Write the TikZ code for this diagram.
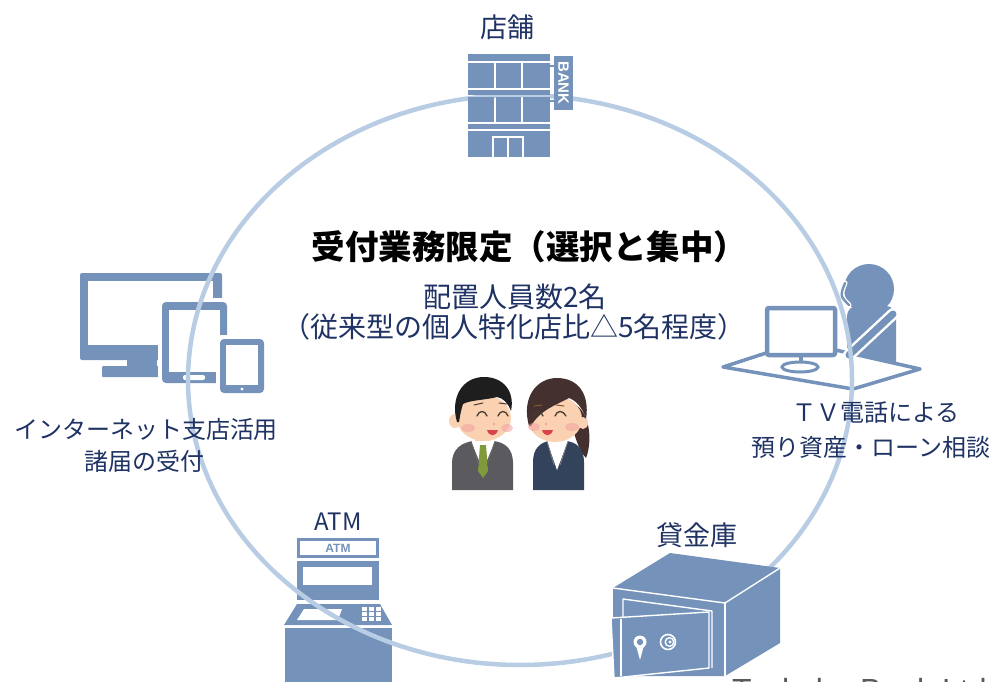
\documentclass[tikz,border=0pt]{standalone}
\usepackage{fontspec}
\newfontfamily\jp{Noto Sans CJK JP}
\newfontfamily\jpheavy{Noto Sans CJK JP Black}
\newfontfamily\latinfont{Liberation Sans}
\definecolor{iconblue}{HTML}{7492BA}
\definecolor{ringblue}{HTML}{B8CCE4}
\definecolor{navy}{HTML}{1F3264}
\definecolor{footgray}{HTML}{595959}
\definecolor{skin}{HTML}{FAD2B2}
\definecolor{blush}{HTML}{F2A4A2}
\definecolor{mouthred}{HTML}{D9434E}
\definecolor{eyedark}{HTML}{4A3A32}
\definecolor{hairblack}{HTML}{1E1E1E}
\definecolor{hairbrown}{HTML}{43302F}
\definecolor{suitgray}{HTML}{5B5B5F}
\definecolor{suitnavy}{HTML}{34435C}
\definecolor{tiegreen}{HTML}{7F9A3A}
\begin{document}
\begin{tikzpicture}[x=1pt,y=-1pt,
  ico/.style={fill=iconblue},
  gap/.style={white,line width=1.4},
  ring/.style={draw=ringblue,line width=4.5},
  lbl/.style={inner sep=0,text=navy,font=\jp\fontsize{24}{30}\selectfont},
  biglbl/.style={inner sep=0,text=navy,font=\jp\fontsize{27}{32}\selectfont},
  midlbl/.style={inner sep=0,text=navy,font=\jp\fontsize{28}{34}\selectfont},
  titlelbl/.style={inner sep=0,text=black,font=\jpheavy\fontsize{33.5}{40}\selectfont},
  eyeline/.style={draw=eyedark,line width=1.3,line cap=round}]
\useasboundingbox (0,0) rectangle (993,682);

% ---------- internet branch: desktop, tablet, phone ----------
\fill[ico,rounded corners=2] (80,273) rectangle (222,360);
\fill[white] (88,281) rectangle (213,345);
\fill[ico] (127,358) rectangle (157,367);
\fill[ico,rounded corners=1] (102,366) rectangle (162,377);
\fill[white,rounded corners=5] (158,298) rectangle (231,387);
\fill[ico,rounded corners=4] (162,302) rectangle (227,383);
\fill[white] (169,310) rectangle (220,372);
\fill[white,rounded corners=2] (183,375) rectangle (205,380);
\fill[white,rounded corners=5] (216,335) rectangle (268,397);
\fill[ico,rounded corners=4] (220,339) rectangle (264,393);
\fill[white] (226,345) rectangle (258,385);
\fill[white] (242,389) circle (1.6);

% ---------- ATM ----------
\draw[iconblue,line width=3] (298.5,539.5) rectangle (377.5,556);
\node[inner sep=0,text=iconblue,font=\latinfont\bfseries\fontsize{12}{14}\selectfont] (atmsign) at (338,548) {ATM};
\fill[ico] (297,561) rectangle (379,600);
\fill[white] (303,567) rectangle (372,585);
\fill[ico] (297,604) -- (380,604) -- (392,625) -- (284,625) -- cycle;
\fill[white] (297,620) -- (304,609) -- (342,609) -- (338,620) -- cycle;
\foreach \i in {0,1,2}{
  \foreach \j in {0,1,2}{
    \fill[white] ({362+7*\i},{607+5*\j}) rectangle ++(5,3.6);
  }
}
\fill[ico] (285,628) rectangle (392,690);

% ---------- TV consultation ----------
\draw[iconblue,line width=3.5,line join=round,fill=white] (723,367) -- (853,389) -- (920,369) -- (800,342) -- cycle;
\draw[iconblue,line width=4.5,rounded corners=2,fill=white] (767,308) rectangle (835,355);
\draw[iconblue,line width=4] (801,356) -- (801,364);
\draw[iconblue,line width=3,fill=white] (800,367) ellipse [x radius=18,y radius=5];
\fill[ico] (847,353) [rounded corners=10] -- (847,306) -- (896,306) [sharp corners] -- (896,364) -- cycle;
\fill[ico] (869,289) circle (25);
\draw[white,line width=5,line cap=round] (845,283) .. controls (840,296) .. (849,305);
\draw[iconblue,line width=2.4,line cap=round] (845,283) .. controls (840,296) .. (849,305);
\draw[white,line width=12,line cap=round] (893,314) -- (849,355);
\draw[iconblue,line width=7,line cap=round] (893,314) -- (849,355);

% ---------- ring ----------
\draw[ring] (520,380) ellipse [x radius=332,y radius=285];

% ---------- branch building ----------
\fill[ico] (468,54) rectangle (550,61);
\fill[ico] (468,63) rectangle (494,88);
\fill[ico] (496,63) rectangle (521,88);
\fill[ico] (523,63) rectangle (550,88);
\fill[ico] (468,90) rectangle (550,95);
\fill[ico] (468,97) rectangle (494,122);
\fill[ico] (496,97) rectangle (521,122);
\fill[ico] (523,97) rectangle (550,122);
\fill[ico] (468,124) rectangle (550,129);
\fill[ico] (468,131) rectangle (550,157);
\draw[gap] (493,157) -- (493,137) -- (523,137) -- (523,157);
\draw[gap] (508,137) -- (508,157);
\fill[ico] (550,65) rectangle (554,67);
\fill[ico] (550,100) rectangle (554,102);
\fill[ico] (554,56) rectangle (573,110);
\node[rotate=-90,inner sep=0,text=white,font=\latinfont\bfseries\fontsize{15}{17}\selectfont] (banksign) at (563.5,83) {BANK};

% ---------- safe deposit box ----------
\fill[ico] (613,588) -- (670,553) -- (780,568) -- (780,643) -- (725,676) -- (613,676) -- cycle;
\draw[gap,line join=round] (613,588) -- (725,603) -- (780,568);
\draw[gap] (725,603) -- (725,676);
\draw[gap,line join=round] (623,617) -- (623,599) -- (712,611) -- (712,668);
\draw[gap,line join=round,fill=iconblue] (611,618) -- (709,612) -- (709,668) -- (614,678) -- cycle;
\draw[white,line width=1.2] (621,619) -- (621,676);
\fill[white] (640,642) circle (6.5);
\fill[ico] (640,642) circle (3.2);
\fill[white] (636.5,647) -- (643.5,647) -- (640,660) -- cycle;
\draw[white,line width=1.6] (668,642) circle (7.5);
\draw[white,line width=1.4] (669.5,642) circle (4.3);
\fill[white] (670,642) circle (1.6);

% ---------- staff: man ----------
\fill[suitgray] (452,490) -- (452,463) .. controls (452,449) and (462,442) .. (474,441) -- (493,441) .. controls (505,442) and (513,449) .. (513,463) -- (513,490) -- cycle;
\fill[skin] (475,432) rectangle (491,444);
\fill[white] (471,441) -- (483,470) -- (495,441) -- cycle;
\fill[tiegreen] (480,445) -- (486,445) -- (488,471) -- (483,478) -- (478,471) -- cycle;
\draw[black!60,line width=0.8] (471,441) -- (479,466) (495,441) -- (487,466);
\fill[skin] (455,421) ellipse [x radius=6,y radius=7];
\fill[skin] (484,418) ellipse [x radius=27,y radius=23];
\fill[hairblack] (457,422) .. controls (450,398) and (462,377) .. (484,377) .. controls (504,377) and (515,392) .. (511,411) .. controls (508,403) and (503,398) .. (497,397) .. controls (486,400) and (470,400) .. (463,404) .. controls (461,410) and (460,416) .. (459,422) -- cycle;
\fill[blush,opacity=0.6] (468,428) ellipse [x radius=7,y radius=4];
\fill[blush,opacity=0.6] (507,428) ellipse [x radius=6,y radius=4];
\draw[eyeline] (477,416) .. controls (479,410) and (485,410) .. (487,416);
\draw[eyeline] (498,416) .. controls (500,410) and (506,410) .. (508,416);
\draw[eyeline,line width=1] (474,405) -- (483,403);
\draw[eyeline,line width=1] (499,403) -- (507,404);
\fill[mouthred] (487,430) .. controls (489,437) and (496,437) .. (498,430) -- cycle;
\fill[mouthred!70] (494,424) circle (0.9);

% ---------- staff: woman ----------
\fill[hairbrown] (570,402) .. controls (590,408) and (593,440) .. (586,458) .. controls (578,450) and (573,430) .. (570,418) -- cycle;
\fill[suitnavy] (533,490) -- (533,462) .. controls (533,449) and (540,442) .. (550,441) -- (566,441) .. controls (577,442) and (584,449) .. (584,462) -- (584,490) -- cycle;
\fill[skin] (550,432) rectangle (564,443);
\fill[white] (547,441) -- (557,470) -- (568,441) -- cycle;
\draw[black!50,line width=0.8] (547,441) -- (554,465) (568,441) -- (560,465);
\fill[skin] (583,423) ellipse [x radius=5,y radius=6];
\fill[skin] (555,419) ellipse [x radius=27,y radius=23];
\fill[hairbrown] (529,426) .. controls (521,397) and (537,378) .. (557,378) .. controls (578,378) and (590,394) .. (586,419) .. controls (583,409) and (577,401) .. (569,398) .. controls (556,405) and (540,410) .. (531,426) -- cycle;
\fill[blush,opacity=0.6] (534,427) ellipse [x radius=6,y radius=4];
\fill[blush,opacity=0.6] (572,427) ellipse [x radius=7,y radius=4];
\draw[eyeline] (533,416) .. controls (535,410) and (541,410) .. (543,416);
\draw[eyeline] (555,416) .. controls (557,410) and (563,410) .. (566,416);
\draw[draw=brown!70!black,line width=1,line cap=round] (534,406) -- (542,405) (556,405) -- (564,406);
\fill[mouthred] (542,430) .. controls (544,437) and (551,437) .. (553,430) -- cycle;
\fill[mouthred!70] (546,424) circle (0.9);

% ---------- texts ----------
\node[biglbl] (shop) at (507,27) {店舗};
\node[titlelbl] (title) at (529.5,247) {受付業務限定（選択と集中）};
\node[midlbl] (staffa) at (515,297) {配置人員数2名};
\node[midlbl] (staffb) at (514,327) {（従来型の個人特化店比△5名程度）};
\node[lbl] (neta) at (146,429) {インターネット支店活用};
\node[lbl] (netb) at (144,461) {諸届の受付};
\node[lbl] (tva) at (876,413) {ＴＶ電話による};
\node[lbl] (tvb) at (871,447) {預り資産・ローン相談};
\node[lbl] (atm) at (338,522) {ATM};
\node[biglbl] (safe) at (697,535) {貸金庫};
\node[anchor=base west,inner sep=0,text=footgray,font=\latinfont\fontsize{32}{38}\selectfont] (footer) at (732,701) {Tsukuba Bank Ltd};
\end{tikzpicture}
\end{document}
